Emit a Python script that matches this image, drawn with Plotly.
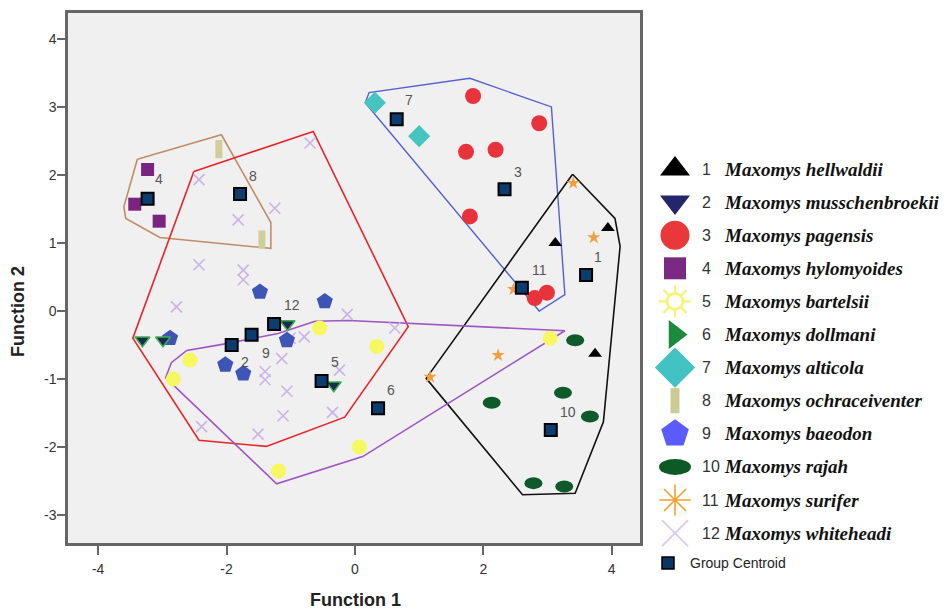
import plotly.graph_objects as go

W, H = 947, 612
OFF = 8  # the page body margin that offsets the figure in the browser

# ---------------- data ----------------
species = ["Maxomys hellwaldii", "Maxomys musschenbroekii", "Maxomys pagensis",
           "Maxomys hylomyoides", "Maxomys bartelsii", "Maxomys dollmani",
           "Maxomys alticola", "Maxomys ochraceiventer", "Maxomys baeodon",
           "Maxomys rajah", "Maxomys surifer", "Maxomys whiteheadi"]

g1_x = [3.12, 3.94, 3.74]
g1_y = [1.00, 1.22, -0.63]
g2_x = [-3.31, -2.99, -1.05, -0.33]
g2_y = [-0.43, -0.43, -0.19, -1.09]
g3_x = [1.84, 2.87, 1.73, 2.19, 1.79, 2.80, 2.99]
g3_y = [3.16, 2.76, 2.34, 2.37, 1.39, 0.19, 0.27]
g4_x = [-3.23, -3.43, -3.05]
g4_y = [2.08, 1.57, 1.32]
g5_x = [-2.57, -2.83, -1.19, -0.55, 0.07, 0.34, 3.04]
g5_y = [-0.72, -1.00, -2.35, -0.25, -2.00, -0.52, -0.40]
g7_x = [0.31, 1.00]
g7_y = [3.06, 2.57]
g8_x = [-2.12, -1.45]
g8_y = [2.38, 1.05]
g9_x = [-1.48, -0.47, -2.88, -2.02, -1.74, -1.06]
g9_y = [0.28, 0.14, -0.40, -0.79, -0.92, -0.43]
g10_x = [3.43, 3.24, 3.66, 2.13, 2.78, 3.26]
g10_y = [-0.43, -1.20, -1.55, -1.35, -2.53, -2.58]
g11_x = [3.40, 3.72, 2.47, 2.23, 1.17]
g11_y = [1.88, 1.08, 0.32, -0.65, -0.97]
g12_x = [-0.70, -2.43, -1.25, -1.82, -2.43, -1.74, -1.74, -2.78, -0.79, -1.01,
         -1.14, -1.40, -1.40, -1.06, -1.12, -1.51, -2.39, -0.35, -0.12, -0.24, 0.62]
g12_y = [2.47, 1.93, 1.51, 1.34, 0.68, 0.60, 0.46, 0.06, -0.38, -0.40,
         -0.70, -0.89, -1.01, -1.18, -1.54, -1.81, -1.70, -1.49, -0.05, -0.87, -0.25]

centroid_x = [3.60, -1.92, 2.33, -3.23, -0.52, 0.36, 0.65, -1.79, -1.61, 3.05, 2.60, -1.26]
centroid_y = [0.53, -0.50, 1.79, 1.65, -1.03, -1.43, 2.82, 1.72, -0.35, -1.75, 0.34, -0.19]
centroid_labels = ["1", "2", "3", "4", "5", "6", "7", "8", "9", "10", "11", "12"]

# hulls (hand-drawn group outlines)
hull_brown_x = [-3.39, -2.08, -1.31, -1.31, -3.04, -3.57, -3.60, -3.39]
hull_brown_y = [2.23, 2.59, 1.30, 0.92, 1.08, 1.36, 1.53, 2.23]
hull_red_x = [-2.51, -0.65, 0.83, -0.16, -1.38, -2.43, -3.46, -2.51]
hull_red_y = [2.05, 2.64, -0.23, -1.56, -1.99, -1.90, -0.40, 2.05]
hull_blue_x = [0.16, 0.22, 1.79, 3.06, 3.27, 2.87, 0.16]
hull_blue_y = [3.06, 3.21, 3.42, 3.00, 0.24, 0.00, 3.06]
hull_black_x = [3.39, 4.05, 4.13, 3.87, 3.43, 2.61, 1.11, 3.39]
hull_black_y = [2.01, 1.36, 0.95, -1.63, -2.68, -2.70, -0.99, 2.01]
hull_purple_x = [-2.95, -2.86, -2.62, -2.00, -1.20, -0.62, -0.10, 0.80, 3.27, 0.12, -1.22, -2.95]
hull_purple_y = [-0.98, -0.76, -0.58, -0.48, -0.33, -0.15, -0.14, -0.18, -0.29, -2.14, -2.54, -0.98]

x_ticks = [-4, -2, 0, 2, 4]
y_ticks = [-3, -2, -1, 0, 1, 2, 3, 4]

# ---------------- styling ----------------
label_shift = {"1": (12, 18), "2": (13, -17), "3": (13, 17), "4": (11, 20), "5": (13, 19),
               "6": (13, 18), "7": (12, 19), "8": (13, 18), "9": (14, -18), "10": (17, 18),
               "11": (18, 18), "12": (18, 19)}

fig = go.Figure()

# grey plotting area background (only for the main axes)
fig.add_shape(type="rect", xref="x domain", yref="y domain", x0=0, x1=1, y0=0, y1=1,
              fillcolor="#f0f0f0", line=dict(width=0), layer="below")

hulls = [(hull_brown_x, hull_brown_y, "#c28d66", 1.6),
         (hull_red_x, hull_red_y, "#e8242a", 1.6),
         (hull_blue_x, hull_blue_y, "#5560d0", 1.4),
         (hull_black_x, hull_black_y, "#111111", 1.6),
         (hull_purple_x, hull_purple_y, "#a154c4", 1.6)]
for hx, hy, col, lw in hulls:
    fig.add_trace(go.Scatter(x=hx, y=hy, mode="lines", line=dict(color=col, width=lw),
                             showlegend=False, hoverinfo="skip"))

def pts(x, y, **marker):
    fig.add_trace(go.Scatter(x=x, y=y, mode="markers", marker=marker, showlegend=False))

pts(g12_x, g12_y, symbol="x-thin-open", size=11, color="#c9b4e8", line=dict(color="#c9b4e8", width=1.6))
pts(g5_x, g5_y, symbol="circle", size=15, color="#f7f760", line=dict(width=0))
pts(g4_x, g4_y, symbol="square", size=13, color="#7b2380", line=dict(width=0))
pts(g8_x, g8_y, symbol="line-ns-open", size=13, color="#d0cf9c", line=dict(color="#d0cf9c", width=7))
pts(g3_x, g3_y, symbol="circle", size=16, color="#e8333c", line=dict(width=0))
pts(g7_x, g7_y, symbol="diamond", size=17, color="#45c4c0", line=dict(width=0))
pts(g9_x, g9_y, symbol="pentagon", size=17, color="#3f55b5", line=dict(width=0))
pts(g2_x, g2_y, symbol="triangle-down", size=13, color="#1c2a50", line=dict(color="#3cb050", width=1.5))
pts(g1_x, g1_y, symbol="triangle-up", size=12, color="#000000", line=dict(width=0))
pts(g11_x, g11_y, symbol="star", size=10, color="#f0a040", line=dict(width=0))

# rajah ellipses (pixel-sized shapes anchored to data)
for ex, ey in zip(g10_x, g10_y):
    fig.add_shape(type="circle", xref="x", yref="y", xsizemode="pixel", ysizemode="pixel",
                  xanchor=ex, yanchor=ey, x0=-9, x1=9, y0=-6, y1=6,
                  fillcolor="#0e5a2a", line=dict(width=0), layer="above")

pts(centroid_x, centroid_y, symbol="square", size=12, color="#0b3d70",
    line=dict(color="#000000", width=2))

for cx, cy, lab in zip(centroid_x, centroid_y, centroid_labels):
    dx, dy = label_shift[lab]
    fig.add_annotation(x=cx, y=cy, xref="x", yref="y", text=lab, showarrow=False,
                       xshift=dx, yshift=dy, font=dict(family="Arial", size=14, color="#555555"))

# ---------------- manual legend on a hidden helper axis (page-pixel units) ----------------
row_y = [169 + 33.1 * i for i in range(12)]
centroid_row = 563
mx, nx, sx = 675, 700, 722

legend_markers = [
    dict(symbol="triangle-up", size=26, color="#000000", line=dict(width=0)),
    dict(symbol="triangle-down", size=26, color="#25256e", line=dict(width=0)),
    dict(symbol="circle", size=29, color="#e8383a", line=dict(width=0)),
    dict(symbol="square", size=22, color="#7a2a82", line=dict(width=0)),
    None,
    dict(symbol="triangle-right", size=25, color="#1c8a3c", line=dict(width=0)),
    dict(symbol="diamond", size=31, color="#42c2c2", line=dict(width=0)),
    dict(symbol="line-ns-open", size=18, color="#cccc92", line=dict(color="#cccc92", width=9)),
    dict(symbol="pentagon", size=29, color="#5a5cff", line=dict(width=0)),
    None,
    dict(symbol="asterisk-open", size=26, color="#f0a030", line=dict(color="#f0a030", width=1.6)),
    dict(symbol="x-thin-open", size=26, color="#d6c8ee", line=dict(color="#d6c8ee", width=1.6)),
]
for i, m in enumerate(legend_markers):
    if m is not None:
        fig.add_trace(go.Scatter(x=[mx], y=[row_y[i]], xaxis="x2", yaxis="y2", mode="markers",
                                 marker=m, showlegend=False, hoverinfo="skip"))
# sun for bartelsii
fig.add_trace(go.Scatter(x=[mx], y=[row_y[4]], xaxis="x2", yaxis="y2", mode="markers",
                         marker=dict(symbol="asterisk-open", size=27, color="#f4f47a",
                                     line=dict(color="#f4f47a", width=2.2)),
                         showlegend=False, hoverinfo="skip"))
fig.add_trace(go.Scatter(x=[mx], y=[row_y[4]], xaxis="x2", yaxis="y2", mode="markers",
                         marker=dict(symbol="circle", size=16, color="#ffffff",
                                     line=dict(color="#f4f47a", width=3)),
                         showlegend=False, hoverinfo="skip"))
# ellipse for rajah
fig.add_shape(type="circle", xref="x2", yref="y2", xsizemode="pixel", ysizemode="pixel",
              xanchor=mx, yanchor=row_y[9], x0=-16, x1=16, y0=-8, y1=8,
              fillcolor="#0d5a25", line=dict(width=0))
# centroid
fig.add_trace(go.Scatter(x=[668], y=[centroid_row], xaxis="x2", yaxis="y2", mode="markers",
                         marker=dict(symbol="square", size=12, color="#0d3563",
                                     line=dict(color="#000000", width=1.5)),
                         showlegend=False, hoverinfo="skip"))

for i, name in enumerate(species):
    fig.add_annotation(x=nx, y=row_y[i], xref="x2", yref="y2", text=str(i + 1), showarrow=False,
                       xanchor="left", yanchor="middle",
                       font=dict(family="Arial", size=16, color="#333333"))
    fig.add_annotation(x=sx, y=row_y[i], xref="x2", yref="y2", text="<b><i>%s</i></b>" % name,
                       showarrow=False, xanchor="left", yanchor="middle",
                       font=dict(family="Liberation Serif", size=19, color="#111111"))
fig.add_annotation(x=688, y=centroid_row, xref="x2", yref="y2", text="Group Centroid", showarrow=False,
                   xanchor="left", yanchor="middle", font=dict(family="Arial", size=14, color="#222222"))

# axis titles (page pixel -> paper)
def px(x):
    return (x - OFF) / W

def py(y):
    return 1 - (y - OFF) / H

fig.add_annotation(x=px(355), y=py(600), xref="paper", yref="paper", text="<b>Function 1</b>",
                   showarrow=False, xanchor="center", yanchor="middle",
                   font=dict(family="Arial", size=18, color="#222222"))
fig.add_annotation(x=px(18), y=py(312), xref="paper", yref="paper", text="<b>Function 2</b>",
                   showarrow=False, textangle=-90, xanchor="center", yanchor="middle",
                   font=dict(family="Arial", size=18, color="#222222"))

fig.update_layout(
    width=W, height=H, autosize=False,
    margin=dict(l=0, r=0, t=0, b=0),
    paper_bgcolor="white", plot_bgcolor="white",
    showlegend=False,
    xaxis=dict(domain=[px(68), px(640)], range=[-4.47, 4.44], tickvals=x_ticks,
               ticktext=[str(v) for v in x_ticks], showgrid=False, zeroline=False,
               showline=True, mirror=True, linecolor="#666666", linewidth=2.5,
               ticks="outside", ticklen=9, tickwidth=2, tickcolor="#666666",
               ticklabelstandoff=2, tickfont=dict(family="Arial", size=14, color="#333333")),
    yaxis=dict(domain=[py(543), py(13)], range=[-3.41, 4.38], tickvals=y_ticks,
               ticktext=[str(v) for v in y_ticks], showgrid=False, zeroline=False,
               showline=True, mirror=True, linecolor="#666666", linewidth=2.5,
               ticks="outside", ticklen=8, tickwidth=2, tickcolor="#666666",
               ticklabelstandoff=-2, tickfont=dict(family="Arial", size=14, color="#333333")),
    xaxis2=dict(domain=[px(650), 1.0], range=[650, 650 + (W - (650 - OFF))], visible=False, anchor="y2"),
    yaxis2=dict(domain=[0.0, 1.0], range=[H + OFF, OFF], visible=False, anchor="x2"),
)

fig.write_html("out.html")
